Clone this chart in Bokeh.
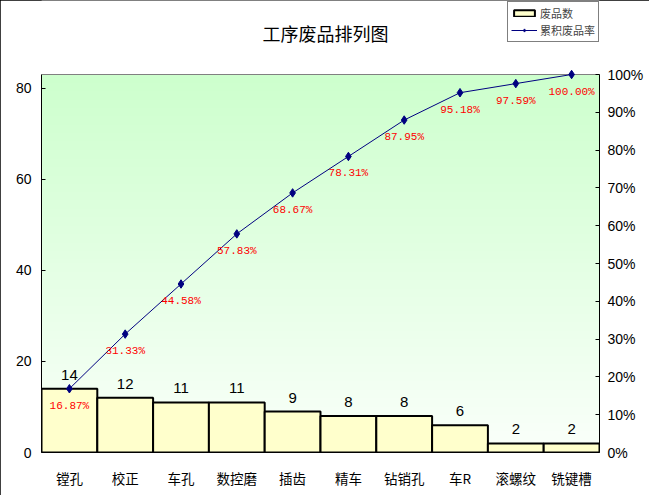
import numpy as np
from bokeh.plotting import figure
from bokeh.models import (Range1d, LinearAxis, FixedTicker, NumeralTickFormatter,
                          Legend, LegendItem, Label, ColumnDataSource, BoxAnnotation, Span)
from bokeh.core.properties import value
from bokeh.embed import file_html
from bokeh.resources import INLINE

categories = ["镗孔", "校正", "车孔", "数控磨", "插齿", "精车", "钻销孔", "车R", "滚螺纹", "铣键槽"]
counts = [14, 12, 11, 11, 9, 8, 8, 6, 2, 2]
left_ticks = [0, 20, 40, 60, 80]
right_ticks = [0, 0.1, 0.2, 0.3, 0.4, 0.5, 0.6, 0.7, 0.8, 0.9, 1.0]

total = sum(counts)
cum = np.cumsum(counts)
pct = cum / total
pct_labels = ["%.2f%%" % (v * 100) for v in pct]

CJK = "Noto Sans CJK SC"
SANS = "Liberation Sans"

# layout: frame spans y 0..452 px; the data area (0..total) fills y 74..452
FRAME_H = 452
DATA_H = 378
ext = FRAME_H / DATA_H

src = ColumnDataSource(dict(cat=categories, cnt=counts, cnt_txt=[str(c) for c in counts],
                            pct=list(pct), pct_txt=pct_labels))

p = figure(x_range=categories, y_range=Range1d(0, total * ext), width=649, height=495,
           output_backend="svg", toolbar_location=None,
           min_border_left=41, min_border_right=50, min_border_top=0, min_border_bottom=43)
p.extra_y_ranges = {"pct": Range1d(0, ext)}

# gradient background (decoration): overlapping strips from bottom to top of data area
N = 90
for i in range(N):
    f = i / N
    g = int(round(250 - (250 - 204) * f))
    col = "#%02x%02x%02x" % (g, 255, g)
    p.add_layout(BoxAnnotation(bottom=f, top=1.0, y_range_name="pct", fill_color=col,
                               fill_alpha=1.0, line_color=None, level="underlay"))
p.add_layout(Span(location=1.0, dimension="width", y_range_name="pct",
                  line_color="#808080", line_width=1, level="underlay"))

p.background_fill_color = "white"
p.border_fill_color = "white"
p.outline_line_color = None
p.xgrid.visible = False
p.ygrid.visible = False

bars = p.vbar(x="cat", top="cnt", width=1.0, source=src, fill_color="#ffffcc",
              line_color="black", line_width=2)
ln = p.line(x="cat", y="pct", source=src, y_range_name="pct", line_color="#000080", line_width=1)
mk = p.scatter(x="cat", y="pct", source=src, y_range_name="pct", marker="diamond", size=8.5,
               fill_color="#000080", line_color="#000080")

p.text(x="cat", y="cnt", text="cnt_txt", source=src, text_align="center", text_baseline="middle",
       y_offset=-14, text_font=value(SANS), text_font_size="15px", text_color="black")
p.text(x="cat", y="pct", text="pct_txt", source=src, y_range_name="pct", text_align="center",
       text_baseline="middle", y_offset=17, text_font=value("Liberation Mono"),
       text_font_size="11px", text_color="red")

# axes
ax = p.xaxis[0]
ax.major_tick_line_color = None
ax.minor_tick_line_color = None
ax.axis_line_color = "black"
ax.major_label_text_font = CJK
ax.major_label_text_font_size = "13.5px"
ax.major_label_text_color = "black"
ax.major_label_standoff = 9

ay = p.yaxis[0]
ay.ticker = FixedTicker(ticks=left_ticks)
ay.bounds = (0, total)
ay.major_tick_in = 4
ay.major_tick_out = 0
ay.minor_tick_line_color = None
ay.axis_line_color = "black"
ay.major_label_text_font = SANS
ay.major_label_text_font_size = "14px"
ay.major_label_text_color = "black"
ay.major_label_standoff = 10

ry = LinearAxis(y_range_name="pct", ticker=FixedTicker(ticks=right_ticks),
                formatter=NumeralTickFormatter(format="0%"), bounds=(0, 1))
ry.major_tick_in = 4
ry.major_tick_out = 0
ry.minor_tick_line_color = None
ry.axis_line_color = "black"
ry.major_label_text_font = SANS
ry.major_label_text_font_size = "14px"
ry.major_label_text_color = "black"
ry.major_label_standoff = 8
p.add_layout(ry, "right")

# title (inside the extended frame, above the data area)
title = Label(x=284, y=420, x_units="screen", y_units="screen", text="工序废品排列图",
              text_font=CJK, text_font_size="18px", text_align="center",
              text_baseline="middle", text_color="black")
p.add_layout(title)

legend = Legend(items=[LegendItem(label="废品数", renderers=[bars]),
                       LegendItem(label="累积废品率", renderers=[ln, mk])],
                location=(466, 410), orientation="vertical")
legend.label_text_font = CJK
legend.label_text_font_size = "11px"
legend.label_height = 14
legend.glyph_height = 8
legend.glyph_width = 26
legend.label_standoff = 3
legend.spacing = 1
legend.padding = 3
legend.margin = 0
legend.border_line_color = "black"
legend.border_line_width = 1
legend.background_fill_color = "white"
legend.background_fill_alpha = 1
p.add_layout(legend, "center")

p.styles = {"outline": "1px solid black", "outline-offset": "-1px"}

open("out.html", "w").write(file_html(p, INLINE))
